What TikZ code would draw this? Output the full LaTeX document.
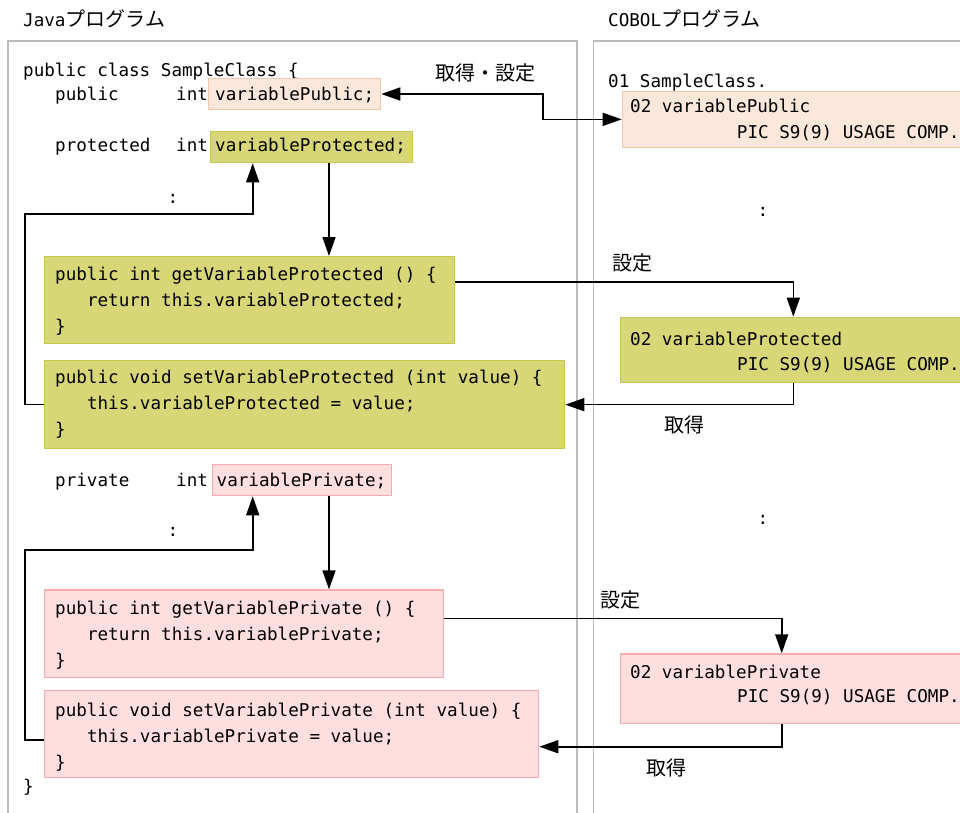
\documentclass[tikz,border=0pt]{standalone}
\usepackage{fontspec}
\setmainfont{DejaVu Sans Mono}
\newfontfamily\jpfont{Noto Sans CJK JP}
\usetikzlibrary{arrows.meta}
\newcommand\jtext[1]{{\jpfont\fontsize{20pt}{24pt}\selectfont #1}}
\newcommand\ind{\hspace*{31.8pt}}
\definecolor{panelgray}{RGB}{188,188,188}
\definecolor{pubfill}{RGB}{251,232,218}
\definecolor{pubdraw}{RGB}{242,200,170}
\definecolor{protfill}{RGB}{215,215,120}
\definecolor{protdraw}{RGB}{198,198,84}
\definecolor{privfill}{RGB}{255,222,224}
\definecolor{privdraw}{RGB}{248,170,176}
\tikzset{
  txt/.style={anchor=base west, inner sep=0pt},
  colon/.style={anchor=base, inner sep=0pt},
  boxbase/.style={anchor=north west, inner sep=0pt, line width=1.3pt},
  pubbox/.style={boxbase, fill=pubfill, draw=pubdraw},
  protbox/.style={boxbase, fill=protfill, draw=protdraw},
  privbox/.style={boxbase, fill=privfill, draw=privdraw},
  panel/.style={draw=panelgray, line width=1.6pt},
  arr/.style={line width=1.6pt, -{Triangle[length=19pt,width=13pt]}},
  dbl/.style={line width=1.6pt, {Triangle[length=19pt,width=13pt]}-{Triangle[length=19pt,width=13pt]}},
}
\begin{document}
\begin{tikzpicture}[x=1pt, y=-1pt, font=\fontsize{17.6pt}{26pt}\selectfont]
\useasboundingbox (0,0) rectangle (960,812);
\fill[white] (0,0) rectangle (960,812);

% titles
\node[txt] (tjava) at (23,26.7) {Java\jtext{プログラム}};
\node[txt] (tcobol) at (608,26.7) {COBOL\jtext{プログラム}};

% panels
\draw[panel] (8,813) -- (8,40.7) -- (576.7,40.7) -- (576.7,813);
\draw[panel] (593.3,813) -- (593.3,40.7) -- (962,40.7);

% ---------- Java side ----------
\node[txt] (l0) at (23,76) {public class SampleClass \{};

\node[txt] (kpub) at (55,100) {public};
\node[txt] (ipub) at (176,100) {int};
\node[pubbox, minimum width=172pt, minimum height=31.3pt] (jpub) at (208,77.7) {};
\node[txt] (vpub) at (215,100) {variablePublic;};

\node[txt] (kprot) at (55,151.7) {protected};
\node[txt] (iprot) at (176,151.7) {int};
\node[protbox, minimum width=202pt, minimum height=31.3pt] (jprot) at (210,130.7) {};
\node[txt] (vprot) at (215,151.7) {variableProtected;};

\node[colon] (dots1) at (173,203) {:};

\node[protbox, minimum width=410pt, minimum height=87pt] (gprot) at (44,256) {};
\node[txt] (gp1) at (55,280) {public int getVariableProtected () \{};
\node[txt] (gp2) at (55,306) {\ind return this.variableProtected;};
\node[txt] (gp3) at (55,332) {\}};

\node[protbox, minimum width=520pt, minimum height=88pt] (sprot) at (44,360) {};
\node[txt] (sp1) at (55,383) {public void setVariableProtected (int value) \{};
\node[txt] (sp2) at (55,409) {\ind this.variableProtected = value;};
\node[txt] (sp3) at (55,435) {\}};

\node[txt] (kpriv) at (55,486) {private};
\node[txt] (ipriv) at (176,486) {int};
\node[privbox, minimum width=179pt, minimum height=31pt] (jpriv) at (212,464) {};
\node[txt] (vpriv) at (216.5,486) {variablePrivate;};

\node[colon] (dots2) at (173,536.5) {:};

\node[privbox, minimum width=399pt, minimum height=87.4pt] (gpriv) at (44,589.3) {};
\node[txt] (gv1) at (55,614) {public int getVariablePrivate () \{};
\node[txt] (gv2) at (55,640) {\ind return this.variablePrivate;};
\node[txt] (gv3) at (55,666) {\}};

\node[privbox, minimum width=494pt, minimum height=86.7pt] (spriv) at (44,690) {};
\node[txt] (sv1) at (55,716.5) {public void setVariablePrivate (int value) \{};
\node[txt] (sv2) at (55,742.5) {\ind this.variablePrivate = value;};
\node[txt] (sv3) at (55,768.5) {\}};

\node[txt] (lend) at (23,792) {\}};

% ---------- COBOL side ----------
\node[txt] (c0) at (608,87.3) {01 SampleClass.};

\node[pubbox, minimum width=360pt, minimum height=56pt] (cpub) at (621.7,90.7) {};
\node[txt] (cp1) at (630,112) {02 variablePublic};
\node[txt] (cp2) at (736.7,138.3) {PIC S9(9) USAGE COMP.};

\node[colon] (dots3) at (763,216) {:};

\node[protbox, minimum width=360pt, minimum height=65pt] (cprot) at (620,316.7) {};
\node[txt] (cr1) at (630,345) {02 variableProtected};
\node[txt] (cr2) at (737,370) {PIC S9(9) USAGE COMP.};

\node[colon] (dots4) at (763,524) {:};

\node[privbox, minimum width=360pt, minimum height=69.4pt] (cpriv) at (620,653.3) {};
\node[txt] (cv1) at (630,678.3) {02 variablePrivate};
\node[txt] (cv2) at (737,702.7) {PIC S9(9) USAGE COMP.};

% ---------- labels ----------
\node[inner sep=0pt] (lab1) at (485,73) {\jtext{取得・設定}};
\node[inner sep=0pt] (lab2) at (632,263) {\jtext{設定}};
\node[inner sep=0pt] (lab3) at (684.5,425) {\jtext{取得}};
\node[inner sep=0pt] (lab4) at (620,600) {\jtext{設定}};
\node[inner sep=0pt] (lab5) at (666,768) {\jtext{取得}};

% ---------- connectors ----------
\coordinate (pubx) at (543,100);
\coordinate (downx) at (329,0);
\coordinate (upx) at (252.7,0);
\coordinate (loopA) at (25,214);
\coordinate (loopB) at (25,550);
\coordinate (cx1) at (793.3,0);
\coordinate (cx2) at (781.7,0);

\draw[dbl] (jpub.east) -| (pubx) |- (cpub.west);

\draw[arr] (jprot.south -| downx) -- (gprot.north -| downx);
\draw[arr] (sprot.west) -| (loopA) -| (jprot.south -| upx);
\draw[arr] ([yshift=-26pt]gprot.north east) -| (cprot.north -| cx1);
\draw[arr] (cprot.south -| cx1) |- (sprot.east);

\draw[arr] (jpriv.south -| downx) -- (gpriv.north -| downx);
\draw[arr] ([yshift=-50pt]spriv.north west) -| (loopB) -| (jpriv.south -| upx);
\draw[arr] ([yshift=-29pt]gpriv.north east) -| (cpriv.north -| cx2);
\draw[arr] (cpriv.south -| cx2) |- ([yshift=-56.7pt]spriv.north east);
\end{tikzpicture}
\end{document}
